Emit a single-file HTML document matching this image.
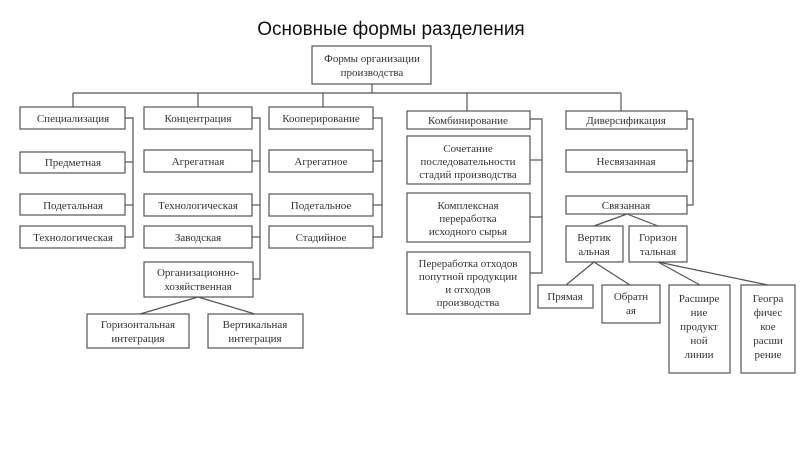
<!DOCTYPE html>
<html><head><meta charset="utf-8"><style>
body{margin:0;background:#fff;}
svg text{font-family:"Liberation Serif",serif;font-size:11px;fill:#333;text-anchor:middle;}
svg .t{font-family:"Liberation Sans",sans-serif;font-size:19px;fill:#111;}
rect{fill:#fff;stroke:#555;stroke-width:1.2;}
line,polyline{stroke:#555;stroke-width:1.2;fill:none;}
</style></head><body>
<svg width="800" height="450" viewBox="0 0 800 450">
<text class="t" x="391" y="35">Основные формы разделения</text>
<!-- top -->
<line x1="372" y1="84" x2="372" y2="93"/>
<line x1="73" y1="93" x2="621" y2="93"/>
<line x1="73" y1="93" x2="73" y2="107"/>
<line x1="198" y1="93" x2="198" y2="107"/>
<line x1="323" y1="93" x2="323" y2="107"/>
<line x1="467" y1="93" x2="467" y2="111"/>
<line x1="621" y1="93" x2="621" y2="111"/>
<rect x="312" y="46" width="119" height="38"/>
<text x="372" y="62">Формы организации</text>
<text x="372" y="76">производства</text>

<!-- col1 -->
<polyline points="125,118 133,118 133,237 125,237"/>
<line x1="125" y1="162" x2="133" y2="162"/>
<line x1="125" y1="205" x2="133" y2="205"/>
<rect x="20" y="107" width="105" height="22"/><text x="73" y="122">Специализация</text>
<rect x="20" y="152" width="105" height="21"/><text x="73" y="166">Предметная</text>
<rect x="20" y="194" width="105" height="21"/><text x="73" y="209">Подетальная</text>
<rect x="20" y="226" width="105" height="22"/><text x="73" y="241">Технологическая</text>

<!-- col2 -->
<polyline points="252,118 260,118 260,279 253,279"/>
<line x1="252" y1="161" x2="260" y2="161"/>
<line x1="252" y1="205" x2="260" y2="205"/>
<line x1="252" y1="237" x2="260" y2="237"/>
<rect x="144" y="107" width="108" height="22"/><text x="198" y="122">Концентрация</text>
<rect x="144" y="150" width="108" height="22"/><text x="198" y="165">Агрегатная</text>
<rect x="144" y="194" width="108" height="22"/><text x="198" y="209">Технологическая</text>
<rect x="144" y="226" width="108" height="22"/><text x="198" y="241">Заводская</text>
<rect x="144" y="262" width="109" height="35"/><text x="198" y="276">Организационно-</text><text x="198" y="290">хозяйственная</text>
<line x1="198" y1="297" x2="140" y2="314"/>
<line x1="198" y1="297" x2="255" y2="314"/>
<rect x="87" y="314" width="102" height="34"/><text x="138" y="328">Горизонтальная</text><text x="138" y="342">интеграция</text>
<rect x="208" y="314" width="95" height="34"/><text x="255" y="328">Вертикальная</text><text x="255" y="342">интеграция</text>

<!-- col3 -->
<polyline points="373,118 382,118 382,237 373,237"/>
<line x1="373" y1="161" x2="382" y2="161"/>
<line x1="373" y1="205" x2="382" y2="205"/>
<rect x="269" y="107" width="104" height="22"/><text x="321" y="122">Кооперирование</text>
<rect x="269" y="150" width="104" height="22"/><text x="321" y="165">Агрегатное</text>
<rect x="269" y="194" width="104" height="22"/><text x="321" y="209">Подетальное</text>
<rect x="269" y="226" width="104" height="22"/><text x="321" y="241">Стадийное</text>

<!-- col4 -->
<polyline points="530,119 542,119 542,273 530,273"/>
<line x1="530" y1="160" x2="542" y2="160"/>
<line x1="530" y1="217" x2="542" y2="217"/>
<rect x="407" y="111" width="123" height="18"/><text x="468" y="124">Комбинирование</text>
<rect x="407" y="136" width="123" height="48"/><text x="468" y="152">Сочетание</text><text x="468" y="165">последовательности</text><text x="468" y="178">стадий производства</text>
<rect x="407" y="193" width="123" height="49"/><text x="468" y="209">Комплексная</text><text x="468" y="222">переработка</text><text x="468" y="235">исходного сырья</text>
<rect x="407" y="252" width="123" height="62"/><text x="468" y="267">Переработка отходов</text><text x="468" y="280">попутной продукции</text><text x="468" y="293">и отходов</text><text x="468" y="306">производства</text>

<!-- col5 -->
<polyline points="687,119 693,119 693,205 687,205"/>
<line x1="687" y1="161" x2="693" y2="161"/>
<rect x="566" y="111" width="121" height="18"/><text x="626" y="124">Диверсификация</text>
<rect x="566" y="150" width="121" height="22"/><text x="626" y="165">Несвязанная</text>
<rect x="566" y="196" width="121" height="18"/><text x="626" y="209">Связанная</text>
<line x1="627" y1="214" x2="594" y2="226"/>
<line x1="627" y1="214" x2="658" y2="226"/>
<rect x="566" y="226" width="57" height="36"/><text x="594" y="241">Вертик</text><text x="594" y="255">альная</text>
<rect x="629" y="226" width="58" height="36"/><text x="658" y="241">Горизон</text><text x="658" y="255">тальная</text>
<line x1="594" y1="262" x2="566" y2="285"/>
<line x1="594" y1="262" x2="630" y2="285"/>
<line x1="658" y1="262" x2="700" y2="285"/>
<line x1="658" y1="262" x2="768" y2="285"/>
<rect x="538" y="285" width="55" height="23"/><text x="565" y="300">Прямая</text>
<rect x="602" y="285" width="58" height="38"/><text x="631" y="300">Обратн</text><text x="631" y="314">ая</text>
<rect x="669" y="285" width="61" height="88"/><text x="699" y="302">Расшире</text><text x="699" y="316">ние</text><text x="699" y="330">продукт</text><text x="699" y="344">ной</text><text x="699" y="358">линии</text>
<rect x="741" y="285" width="54" height="88"/><text x="768" y="302">Геогра</text><text x="768" y="316">фичес</text><text x="768" y="330">кое</text><text x="768" y="344">расши</text><text x="768" y="358">рение</text>
</svg>
</body></html>
